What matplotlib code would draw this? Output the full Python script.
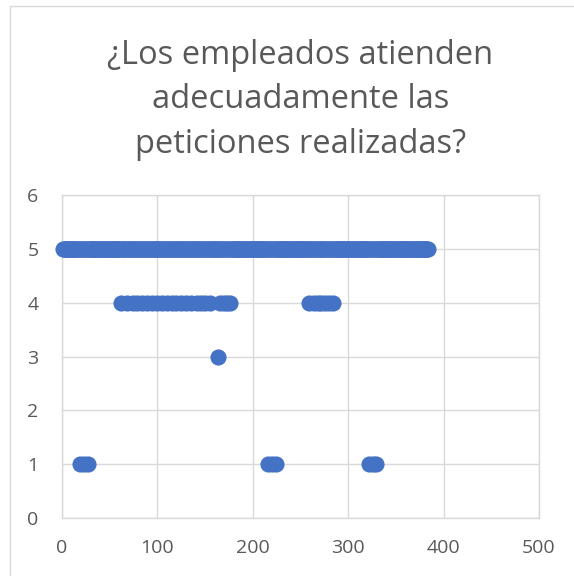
import matplotlib
matplotlib.use("Agg")
import matplotlib.pyplot as plt
from matplotlib.patches import Rectangle

# Survey: number of respondents and their ratings (1-5)
n_respondents = 384
resp_rating_4 = [62, 68, 74, 79, 84, 89, 94, 100, 105, 110, 115, 120, 125, 130,
                 135, 141, 146, 150, 155, 166, 170, 173, 176,
                 259, 264, 268, 272, 276, 280, 284]
resp_rating_3 = [163]
resp_rating_1 = [19, 23, 27, 216, 220, 224, 322, 326, 329]

ratings = {}
for i in resp_rating_4:
    ratings[i] = 4
for i in resp_rating_3:
    ratings[i] = 3
for i in resp_rating_1:
    ratings[i] = 1
respondents = list(range(1, n_respondents + 1))
scores = [ratings.get(i, 5) for i in respondents]

title = "¿Los empleados atienden\nadecuadamente las\npeticiones realizadas?"
x_ticks = [0, 100, 200, 300, 400, 500]
y_ticks = [0, 1, 2, 3, 4, 5, 6]

W, H = 574, 576
fig = plt.figure(figsize=(W / 100, H / 100), dpi=100)
fig.patch.set_facecolor("white")

# chart frame
fig.add_artist(Rectangle((9.5 / W, -0.1), 1.2, 1.1 - 5.5 / H, transform=fig.transFigure,
                         fill=False, edgecolor="#d9d9d9", linewidth=1.0))

ax = fig.add_axes([62 / W, 1 - 518 / H, (539 - 62) / W, (518 - 195) / H])
ax.scatter(respondents, scores, s=135, color="#4472c4", linewidths=0, zorder=3,
           clip_on=False)

ax.set_xlim(0, 500)
ax.set_ylim(0, 6)
ax.set_xticks(x_ticks)
ax.set_yticks(y_ticks)
ax.grid(True, color="#d9d9d9", linewidth=1.0)
ax.set_axisbelow(True)
for s in ax.spines.values():
    s.set_color("#d9d9d9")
    s.set_linewidth(1.0)
ax.tick_params(length=0, labelsize=14, labelcolor="#595959")
ax.tick_params(axis="x", pad=15)
ax.tick_params(axis="y", pad=17)
for lab in ax.get_xticklabels() + ax.get_yticklabels():
    lab.set_fontfamily("Open Sans")

fig.text(0.523, 1 - 100 / H, title, ha="center", va="center", fontsize=23.5,
         color="#595959", family="Open Sans", linespacing=1.45)

fig.savefig("out.png", dpi=100)
